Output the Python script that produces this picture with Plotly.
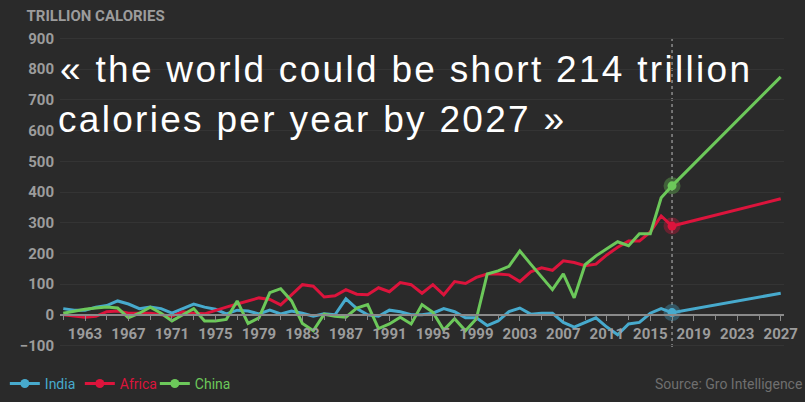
import plotly.graph_objects as go

# ---- data ----
years = list(range(1961, 2018)) + [2027]
current_year = 2017

india = [20, 15, 15, 25, 30, 45, 35, 20, 25, 20,
         5, 20, 35, 25, 18, 3, 15, 12, 3, 15,
         3, 12, 5, -5, 3, 0, 52, 20, 0, -5,
         15, 10, 0, 0, 5, 20, 10, -10, -10, -35,
         -20, 10, 22, 2, 5, 5, -25, -40, -25, -10,
         -40, -65, -30, -25, 5, 20, 7, 70]

africa = [0, -5, -8, -5, 10, 12, 5, 5, 5, 0,
          -5, 10, 5, 3, 15, 25, 35, 45, 55, 50,
          32, 65, 98, 93, 58, 62, 82, 67, 65, 88,
          75, 105, 98, 70, 98, 65, 108, 102, 122, 133,
          133, 130, 108, 140, 153, 145, 176, 170, 160, 165,
          195, 220, 240, 240, 270, 322, 289, 378]

china = [5, 12, 18, 22, 25, 22, -10, 5, 25, 5,
         -20, 0, 20, -20, -20, -15, 45, -28, -10, 72,
         85, 45, -28, -52, 2, -5, -8, 22, 33, -45,
         -30, -8, -30, 33, 8, -50, -13, -52, -13, 133,
         143, 158, 208, 165, 122, 82, 133, 55, 163, 192,
         215, 238, 225, 264, 264, 381, 420, 775]

series_names = ["India", "Africa", "China"]
series_values = [india, africa, china]
colors = ["#47aacd", "#dc143c", "#6cc85a"]

y_ticks = list(range(-100, 1000, 100))
x_tick0 = 1963

title_text = "TRILLION CALORIES"
quote_line1 = "« the world could be short 214 trillion"
quote_line2 = "calories per year by 2027 »"
source_text = "Source: Gro Intelligence"

# ---- figure ----
BG = "#2a2a2a"
TICK = "#9c9c9c"
y_range = [-105, 905]

fig = go.Figure()
for name, vals, col in zip(series_names, series_values, colors):
    fig.add_trace(go.Scatter(
        x=years, y=vals, mode="lines", line=dict(color=col, width=3),
        name=name, showlegend=False, hoverinfo="skip"))

for name, vals, col in zip(series_names, series_values, colors):
    idx = years.index(current_year)
    fig.add_trace(go.Scatter(
        x=[years[idx]], y=[vals[idx]], mode="markers",
        marker=dict(color=col, size=17, opacity=0.35),
        showlegend=False, hoverinfo="skip"))
    fig.add_trace(go.Scatter(
        x=[years[idx]], y=[vals[idx]], mode="lines+markers",
        marker=dict(color=col, size=9),
        line=dict(color=col, width=3),
        name=f"<span style='color:{col}'>{name}</span>",
        showlegend=True, hoverinfo="skip"))

fig.add_shape(type="line", xref="x", yref="paper",
              x0=current_year, x1=current_year, y0=0, y1=1,
              line=dict(color="#bdbdbd", width=1, dash="dot"), layer="below")

zero_pos = (0 - y_range[0]) / (y_range[1] - y_range[0])

fig.update_layout(
    width=805, height=402,
    paper_bgcolor=BG, plot_bgcolor=BG,
    margin=dict(l=60, r=21, t=37, b=55, autoexpand=False),
    font=dict(family="Roboto", color=TICK),
    title=dict(text=title_text, x=0.033, xanchor="left", y=0.962, yanchor="middle",
               font=dict(family="Roboto", size=15, color=TICK, weight="bold")),
    xaxis=dict(range=[1960.7, 2027.3], anchor="free", position=zero_pos,
               showgrid=False, zeroline=False, automargin=False,
               showline=True, linecolor="#8a8a8a", linewidth=1.5,
               tickmode="linear", tick0=x_tick0, dtick=4,
               ticks="outside", ticklen=5, tickcolor="#8a8a8a",
               tickfont=dict(family="Roboto", size=15, color=TICK, weight="bold"),
               minor=dict(tick0=1961, dtick=2, ticks="outside", ticklen=4,
                          tickcolor="#8a8a8a", showgrid=False)),
    yaxis=dict(range=y_range, tickvals=y_ticks, showgrid=True,
               gridcolor="#343434", gridwidth=1, zeroline=False, automargin=False,
               ticklabelstandoff=5,
               tickfont=dict(family="Roboto", size=15, color=TICK, weight="bold")),
    legend=dict(orientation="h", xref="container", yref="container",
                x=0.006, xanchor="left", y=0.045, yanchor="middle",
                bgcolor="rgba(0,0,0,0)", entrywidth=30,
                font=dict(family="Roboto", size=14), itemwidth=30,
                tracegroupgap=0),
    showlegend=True,
)

sp = "letter-spacing:2.3px"
fig.add_annotation(text=f"<span style='{sp}'>{quote_line1}</span>", xref="paper", yref="paper",
                   x=-0.0025, y=0.894, xanchor="left", yanchor="middle", showarrow=False,
                   font=dict(family="Liberation Sans", size=37, color="white"))
fig.add_annotation(text=f"<span style='{sp}'>{quote_line2}</span>", xref="paper", yref="paper",
                   x=-0.0057, y=0.735, xanchor="left", yanchor="middle", showarrow=False,
                   font=dict(family="Liberation Sans", size=37, color="white"))
fig.add_annotation(text=source_text, xref="paper", yref="paper",
                   x=1.027, y=-0.119, xanchor="right", yanchor="middle", showarrow=False,
                   font=dict(family="Roboto", size=14, color="#6f6f6f"))

fig.write_html("out.html", config={"displayModeBar": False},
               post_script="document.body.style.margin='0';document.body.style.overflow='hidden';"
                           "document.body.style.background='#2a2a2a';")
